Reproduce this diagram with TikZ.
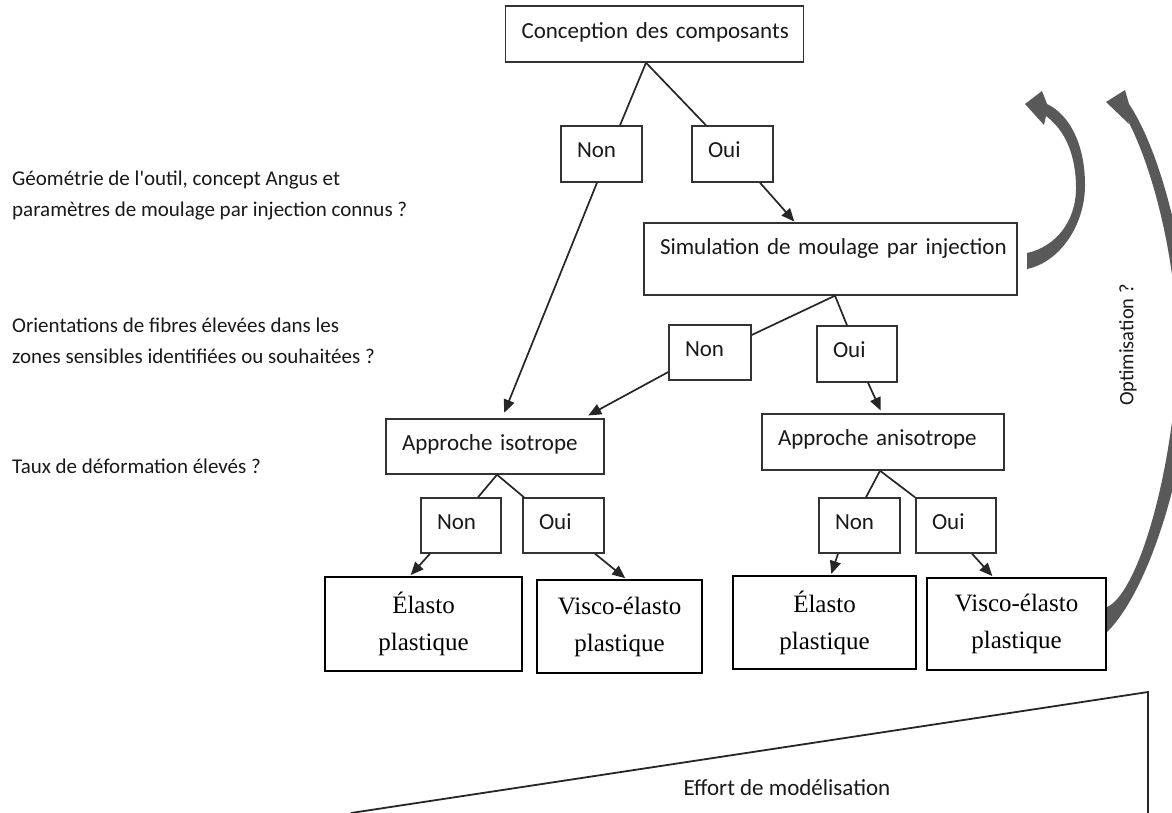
\documentclass[tikz,border=0pt]{standalone}
\usepackage{fontspec}
\setmainfont{Liberation Serif}
\newfontfamily\calibri{Carlito}
\usetikzlibrary{arrows.meta}

\begin{document}
\begin{tikzpicture}[x=1pt,y=-1pt,
  sbox/.style={draw=black!80, line width=1.4pt, fill=white,
    font=\calibri\fontsize{23}{27}\selectfont, text=black!90,
    align=left, inner xsep=16pt, inner ysep=0pt,
    text height=15pt, text depth=8pt, anchor=center},
  yesno/.style={sbox, text width=49pt, minimum height=56pt},
  mbox/.style={draw=black, line width=2.3pt, fill=white,
    font=\fontsize{25}{37}\selectfont, align=center, anchor=center,
    inner sep=0pt},
  link/.style={draw=black!85, line width=1.7pt},
  tolink/.style={link, -{Triangle[length=13pt,width=11pt]}, shorten >=1pt},
  question/.style={font=\calibri\fontsize{21}{31}\selectfont, text=black!90,
    align=left, anchor=west, inner sep=0pt},
  bigarrow/.style={fill=black!65, draw=none}
]
\useasboundingbox[fill=white] (0,0) rectangle (1172,813);

% questions on the left
\node[question] (q1) at (12,196) {Géométrie de l'outil, concept Angus et\\paramètres de moulage par injection connus ?};
\node[question] (q2) at (12,341) {Orientations de fibres élevées dans les\\zones sensibles identifiées ou souhaitées ?};
\node[question] (q3) at (12,466) {Taux de déformation élevés ?};

% decision tree
\node[sbox, text width=266pt, minimum height=56pt, text depth=6pt] (top) at (654.5,34) {\mbox{Conception des composants}};
\node[yesno] (non1) at (601.5,154) {Non};
\node[yesno] (oui1) at (732.5,154) {Oui};
\node[sbox, text width=341pt, minimum height=72pt, text depth=24pt] (sim) at (830.5,259) {\mbox{Simulation de moulage par injection}};
\node[yesno, text width=50pt, minimum height=55pt] (non2) at (710,352.5) {Non};
\node[yesno, text width=48pt] (oui2) at (857,354) {Oui};
\node[sbox, text width=186pt, minimum height=55pt] (iso) at (495,446.5) {\mbox{Approche isotrope}};
\node[sbox, text width=210pt, minimum height=56pt] (aniso) at (883,442) {\mbox{Approche anisotrope}};
\node[yesno, text width=48pt, minimum height=55pt] (non3) at (461,525.5) {Non};
\node[yesno, minimum height=55pt] (oui3) at (563.5,525.5) {Oui};
\node[yesno, minimum height=55pt] (non4) at (859.5,525.5) {Non};
\node[yesno, text width=48pt, minimum height=55pt] (oui4) at (956,525.5) {Oui};

\node[mbox, minimum width=197pt, minimum height=94pt] (ela1) at (423.5,624) {Élasto\\plastique};
\node[mbox, minimum width=165pt, minimum height=93pt] (vis1) at (619.5,626.5) {Visco-élasto\\plastique};
\node[mbox, minimum width=183pt, minimum height=93pt] (ela2) at (824.5,622.5) {Élasto\\plastique};
\node[mbox, minimum width=179pt, minimum height=92pt] (vis2) at (1016.5,624) {Visco-élasto\\plastique};

% connectors
\draw[link] ([xshift=-8.5pt]top.south) -- ([xshift=18.5pt]non1.north);
\draw[link] ([xshift=-8.5pt]top.south) -- ([xshift=-26.5pt]oui1.north);
\draw[tolink, shorten >=6pt] ([xshift=-4.5pt]non1.south) -- ([xshift=7pt]iso.north);
\draw[tolink] ([xshift=27.5pt]oui1.south) -- ([xshift=-35.5pt]sim.north);
\draw[link] ([xshift=4.5pt]sim.south) -- ([yshift=17.5pt]non2.east);
\draw[link] ([xshift=4.5pt]sim.south) -- ([xshift=-10pt]oui2.north);
\draw[tolink, shorten >=6pt] ([yshift=-19.5pt]non2.west) -- ([xshift=88pt]iso.north);
\draw[tolink, shorten >=3pt] ([xshift=11pt]oui2.south) -- ([xshift=-1pt]aniso.north);
\draw[link] ([xshift=2pt]iso.south) -- ([xshift=17pt]non3.north);
\draw[link] ([xshift=2pt]iso.south) -- ([xshift=-39.5pt]oui3.north);
\draw[tolink] ([xshift=-31pt]non3.south) -- ([xshift=-13.5pt]ela1.north);
\draw[tolink] ([xshift=31.5pt]oui3.south) -- ([xshift=6.5pt]vis1.north);
\draw[link] ([xshift=-3pt]aniso.south) -- ([xshift=6.5pt]non4.north);
\draw[link] ([xshift=-3pt]aniso.south) -- ([xshift=-41pt]oui4.north);
\draw[tolink] ([xshift=-21.5pt]non4.south) -- ([xshift=6.5pt]ela2.north);
\draw[tolink] ([xshift=16pt]oui4.south) -- ([xshift=-23.5pt]vis2.north);

% curved feedback arrows
\fill[bigarrow] (1025,104) -- (1042,91) -- (1047,104)
  .. controls (1070,115) and (1085,145) .. (1085,185)
  .. controls (1085,225) and (1060,262) .. (1027,269)
  -- (1027,253)
  .. controls (1055,247) and (1076,222) .. (1076,188)
  .. controls (1076,155) and (1065,130) .. (1046,116)
  -- (1044,125) -- cycle;
\fill[bigarrow] (1106,102) -- (1125,90) -- (1129,104)
  .. controls (1160,150) and (1190,260) .. (1190,360)
  .. controls (1190,460) and (1150,590) .. (1107,632)
  -- (1107,607)
  .. controls (1135,595) and (1170,490) .. (1178,360)
  .. controls (1178,260) and (1152,165) .. (1126,117)
  -- (1129,124) -- cycle;
\node[font=\calibri\fontsize{20.5}{24}\selectfont, text=black!90, rotate=90, inner sep=0pt] (opt) at (1128,345) {Optimisation ?};

% modelling effort wedge
\coordinate (wl) at (351,813);
\coordinate (wt) at (1148,692);
\coordinate (wb) at (1148,813);
\draw[line width=1.8pt, black!85] (wl) -- (wt) -- (wb);
\node[font=\calibri\fontsize{23}{27}\selectfont, text=black!90, inner sep=0pt] (effort) at (787,788) {Effort de modélisation};
\end{tikzpicture}
\end{document}
